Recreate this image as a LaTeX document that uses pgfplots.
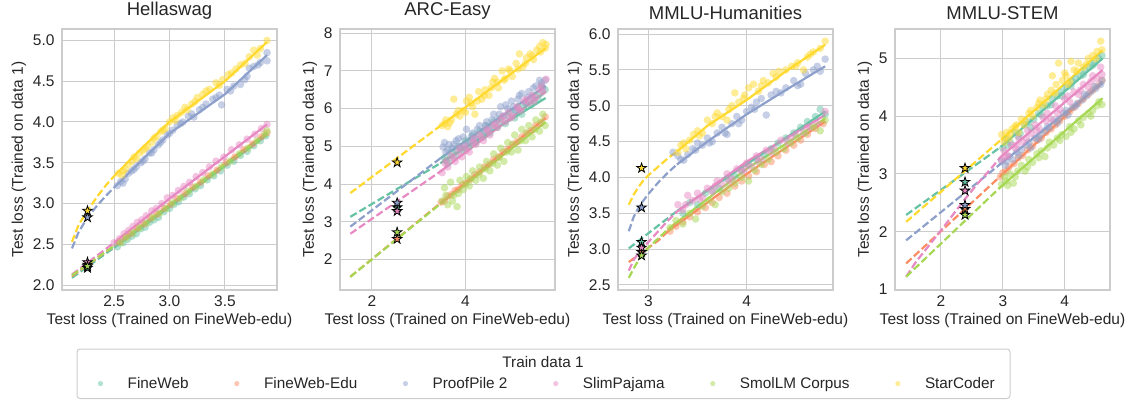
\documentclass[border=0pt]{standalone}
\usepackage{pgfplots}
\pgfplotsset{compat=1.18}
\usepackage{fontspec}
\setmainfont{Liberation Sans}
\definecolor{cA}{HTML}{66C2A5}
\definecolor{cB}{HTML}{FC8D62}
\definecolor{cC}{HTML}{8DA0CB}
\definecolor{cD}{HTML}{E78AC3}
\definecolor{cE}{HTML}{A6D854}
\definecolor{cF}{HTML}{FFD92F}
\definecolor{gridc}{HTML}{CCCCCC}
\definecolor{labc}{HTML}{262626}
\newcommand\fs{\fontsize{15.5}{18}\selectfont}
\newcommand\ft{\fontsize{18.5}{21}\selectfont}
\newcommand\fl{\fontsize{15.3}{18}\selectfont}
\pgfdeclareplotmark{fstar}{%
  \pgfpathmoveto{\pgfpointpolar{90}{1\pgfplotmarksize}}%
  \pgfpathlineto{\pgfpointpolar{126}{0.382\pgfplotmarksize}}%
  \pgfpathlineto{\pgfpointpolar{162}{1\pgfplotmarksize}}%
  \pgfpathlineto{\pgfpointpolar{198}{0.382\pgfplotmarksize}}%
  \pgfpathlineto{\pgfpointpolar{234}{1\pgfplotmarksize}}%
  \pgfpathlineto{\pgfpointpolar{270}{0.382\pgfplotmarksize}}%
  \pgfpathlineto{\pgfpointpolar{306}{1\pgfplotmarksize}}%
  \pgfpathlineto{\pgfpointpolar{342}{0.382\pgfplotmarksize}}%
  \pgfpathlineto{\pgfpointpolar{18}{1\pgfplotmarksize}}%
  \pgfpathlineto{\pgfpointpolar{54}{0.382\pgfplotmarksize}}%
  \pgfpathclose
  \pgfusepathqfillstroke}
\pgfplotsset{
  panel/.style={scale only axis, width=215pt, height=261pt, anchor=south west,
    axis line style={gridc, line width=1.25pt},
    grid=major, major grid style={gridc, line width=1pt},
    tick style={draw=none},
    /pgf/number format/assume math mode=true,
    xticklabel style={font=\fs, text=labc, yshift=-2pt},
    yticklabel style={font=\fs, text=labc, xshift=-4pt},
    label style={font=\fs, text=labc},
    title style={font=\ft, text=labc},
    xlabel={Test loss (Trained on FineWeb-edu)},
    ylabel={Test loss (Trained on data 1)}},
  onedec/.style={xticklabel style={/pgf/number format/.cd, fixed, fixed zerofill, precision=1},
    yticklabel style={/pgf/number format/.cd, fixed, fixed zerofill, precision=1}},
  sc/.style={only marks, color=#1, mark=*, mark size=3.8pt, mark options={draw opacity=0, fill=#1, fill opacity=0.5}},
  ln/.style={#1, line width=2.2pt, no marks},
  dl/.style={#1, line width=2.2pt, no marks, dash pattern=on 7.4pt off 3.2pt},
  st/.style={only marks, mark=fstar, mark size=5pt, mark options={fill=#1, draw=black, line width=0.8pt, solid}},
  lg/.style={only marks, color=#1, mark=*, mark size=2.6pt, mark options={draw opacity=0, fill=#1, fill opacity=0.5}}
}
\begin{document}
\begin{tikzpicture}
\path[use as bounding box] (0,0) rectangle (1125pt,400pt);
% ---------------- Hellaswag
\begin{axis}[panel, onedec, at={(62pt,110pt)}, title={Hellaswag},
  xmin=2.03, xmax=3.97, ymin=1.94, ymax=5.14,
  xtick={2.5,3.0,3.5}, ytick={2.0,2.5,3.0,3.5,4.0,4.5,5.0}]
\addplot[sc=cA] coordinates {(2.53,2.47)(2.58,2.52)(2.62,2.56)(2.66,2.60)(2.70,2.63)(2.74,2.69)(2.78,2.71)(2.82,2.77)(2.86,2.80)(2.90,2.83)(2.95,2.90)(3.00,2.94)(3.04,2.99)(3.08,3.02)(3.13,3.08)(3.18,3.12)(3.23,3.18)(3.28,3.22)(3.34,3.29)(3.40,3.34)(3.46,3.40)(3.52,3.47)(3.58,3.52)(3.64,3.59)(3.70,3.64)(3.76,3.71)(3.82,3.77)(3.87,3.83)};
\addplot[sc=cB] coordinates {(2.55,2.53)(2.60,2.59)(2.65,2.63)(2.71,2.70)(2.77,2.75)(2.83,2.82)(2.89,2.87)(2.95,2.94)(3.01,2.99)(3.07,3.06)(3.14,3.12)(3.21,3.20)(3.28,3.26)(3.35,3.34)(3.43,3.41)(3.51,3.50)(3.59,3.57)(3.67,3.66)(3.75,3.73)(3.83,3.82)(3.88,3.87)};
\addplot[sc=cC] coordinates {(2.53,3.22)(2.56,3.27)(2.58,3.25)(2.60,3.30)(2.63,3.37)(2.66,3.40)(2.68,3.42)(2.70,3.45)(2.74,3.50)(2.76,3.52)(2.78,3.55)(2.82,3.62)(2.84,3.62)(2.86,3.66)(2.90,3.72)(2.92,3.75)(2.94,3.78)(2.98,3.84)(3.00,3.86)(3.03,3.90)(3.07,3.96)(3.10,3.98)(3.12,4.00)(3.17,4.07)(3.20,4.10)(3.22,4.06)(3.27,4.15)(3.30,4.18)(3.33,4.22)(3.39,4.28)(3.42,4.30)(3.45,4.33)(3.47,4.21)(3.52,4.40)(3.55,4.38)(3.58,4.44)(3.64,4.46)(3.68,4.52)(3.70,4.56)(3.72,4.66)(3.76,4.68)(3.80,4.70)(3.82,4.73)(3.88,4.85)(3.88,4.75)};
\addplot[sc=cD] coordinates {(2.50,2.52)(2.55,2.57)(2.59,2.63)(2.63,2.67)(2.67,2.72)(2.71,2.77)(2.75,2.80)(2.79,2.85)(2.84,2.91)(2.88,2.94)(2.93,3.00)(2.98,3.07)(3.03,3.10)(3.08,3.16)(3.13,3.21)(3.18,3.26)(3.24,3.33)(3.30,3.38)(3.36,3.45)(3.42,3.52)(3.49,3.57)(3.56,3.66)(3.63,3.72)(3.70,3.79)(3.77,3.85)(3.83,3.92)(3.88,3.97)};
\addplot[sc=cE] coordinates {(2.56,2.52)(2.61,2.58)(2.67,2.64)(2.73,2.70)(2.79,2.76)(2.85,2.83)(2.91,2.88)(2.97,2.94)(3.03,3.01)(3.10,3.07)(3.17,3.15)(3.24,3.21)(3.31,3.29)(3.39,3.36)(3.47,3.45)(3.55,3.52)(3.63,3.61)(3.71,3.68)(3.79,3.77)(3.86,3.85)(3.88,3.89)};
\addplot[sc=cF] coordinates {(2.54,3.37)(2.57,3.35)(2.58,3.40)(2.60,3.42)(2.63,3.48)(2.66,3.52)(2.68,3.57)(2.70,3.55)(2.73,3.62)(2.76,3.65)(2.78,3.68)(2.80,3.70)(2.84,3.75)(2.86,3.80)(2.88,3.82)(2.92,3.88)(2.94,3.90)(2.96,3.92)(3.00,4.00)(3.03,4.05)(3.05,4.02)(3.07,4.08)(3.11,4.12)(3.14,4.18)(3.16,4.15)(3.20,4.22)(3.23,4.25)(3.25,4.30)(3.30,4.34)(3.33,4.38)(3.36,4.40)(3.42,4.48)(3.45,4.45)(3.48,4.52)(3.53,4.58)(3.56,4.60)(3.60,4.65)(3.64,4.70)(3.68,4.72)(3.72,4.80)(3.76,4.88)(3.79,4.82)(3.82,4.90)(3.88,5.00)};
\addplot[ln=cA] coordinates {(2.50,2.46)(3.88,3.84)};
\addplot[dl=cA] coordinates {(2.12,2.09)(2.50,2.46)};
\addplot[ln=cB] coordinates {(2.50,2.48)(3.88,3.87)};
\addplot[dl=cB] coordinates {(2.12,2.11)(2.50,2.48)};
\addplot[ln=cC] coordinates {(2.51,3.21)(2.75,3.53)(3.00,3.86)(3.50,4.34)(3.88,4.82)};
\addplot[dl=cC] coordinates {(2.12,2.45)(2.18,2.65)(2.26,2.83)(2.35,2.98)(2.43,3.10)(2.51,3.21)};
\addplot[ln=cD] coordinates {(2.50,2.52)(3.00,3.06)(3.88,3.97)};
\addplot[dl=cD] coordinates {(2.12,2.13)(2.50,2.52)};
\addplot[ln=cE] coordinates {(2.50,2.48)(3.88,3.86)};
\addplot[dl=cE] coordinates {(2.12,2.12)(2.50,2.48)};
\addplot[ln=cF] coordinates {(2.51,3.35)(2.75,3.68)(3.00,4.00)(3.50,4.50)(3.88,4.98)};
\addplot[dl=cF] coordinates {(2.12,2.53)(2.18,2.74)(2.26,2.91)(2.35,3.09)(2.43,3.23)(2.51,3.35)};
\addplot[st=cA] coordinates {(2.26,2.21)};
\addplot[st=cB] coordinates {(2.26,2.25)};
\addplot[st=cC] coordinates {(2.26,2.83)};
\addplot[st=cD] coordinates {(2.26,2.28)};
\addplot[st=cE] coordinates {(2.26,2.23)};
\addplot[st=cF] coordinates {(2.26,2.91)};
\end{axis}
% ---------------- ARC-Easy
\begin{axis}[panel, at={(340pt,110pt)}, title={ARC-Easy},
  xmin=1.32, xmax=5.91, ymin=1.19, ymax=8.11,
  xtick={2,4}, ytick={2,3,4,5,6,7,8}]
\addplot[sc=cA] coordinates {(3.55,4.70)(3.58,4.62)(3.62,4.55)(3.68,4.70)(3.70,4.85)(3.78,4.75)(3.82,4.88)(3.85,5.00)(3.92,4.90)(3.98,4.95)(4.00,5.15)(4.08,5.00)(4.12,5.15)(4.15,5.30)(4.22,5.10)(4.26,5.25)(4.30,5.40)(4.38,5.25)(4.42,5.40)(4.45,5.55)(4.52,5.35)(4.58,5.50)(4.60,5.65)(4.68,5.50)(4.72,5.65)(4.75,5.75)(4.85,5.60)(4.90,5.80)(4.95,5.90)(5.05,5.75)(5.08,5.95)(5.12,6.05)(5.20,5.85)(5.25,6.05)(5.30,6.15)(5.40,6.10)(5.45,6.20)(5.48,6.35)(5.55,6.25)(5.60,6.40)(5.62,6.60)(5.70,6.50)};
\addplot[sc=cB] coordinates {(3.48,3.52)(3.55,3.55)(3.62,3.68)(3.70,3.72)(3.78,3.83)(3.85,3.86)(3.93,3.98)(4.00,4.02)(4.10,4.12)(4.20,4.25)(4.30,4.32)(4.40,4.45)(4.50,4.52)(4.60,4.65)(4.70,4.72)(4.80,4.85)(4.90,4.92)(5.00,5.05)(5.10,5.12)(5.20,5.25)(5.30,5.35)(5.40,5.42)(5.50,5.55)(5.60,5.62)(5.70,5.78)};
\addplot[sc=cC] coordinates {(3.52,4.98)(3.55,5.10)(3.58,4.85)(3.62,4.92)(3.65,5.05)(3.72,4.95)(3.75,5.05)(3.80,5.15)(3.85,5.20)(3.88,5.00)(3.95,5.25)(3.98,5.05)(4.02,5.45)(4.08,5.10)(4.12,5.25)(4.15,5.35)(4.22,5.20)(4.25,5.45)(4.30,5.55)(4.38,5.40)(4.42,5.55)(4.45,5.65)(4.52,5.50)(4.56,5.70)(4.60,5.85)(4.68,5.70)(4.72,5.85)(4.75,6.05)(4.82,5.80)(4.86,6.10)(4.90,6.00)(4.98,6.20)(5.02,6.05)(5.05,5.95)(5.12,6.25)(5.15,6.35)(5.20,6.40)(5.28,6.15)(5.32,6.30)(5.35,6.45)(5.42,6.30)(5.45,6.55)(5.50,6.60)(5.58,6.75)(5.62,6.68)(5.65,6.55)(5.70,6.75)};
\addplot[sc=cD] coordinates {(3.50,4.30)(3.56,4.55)(3.60,4.62)(3.62,4.45)(3.70,4.75)(3.75,4.70)(3.78,4.60)(3.85,4.85)(3.88,4.95)(3.92,4.72)(4.00,5.00)(4.02,4.90)(4.08,4.85)(4.15,5.10)(4.18,5.20)(4.22,5.05)(4.30,5.30)(4.34,5.25)(4.38,5.15)(4.45,5.45)(4.48,5.40)(4.52,5.30)(4.60,5.55)(4.64,5.60)(4.68,5.50)(4.75,5.70)(4.80,5.80)(4.85,5.65)(4.92,5.90)(4.96,5.75)(5.00,5.80)(5.10,6.05)(5.12,6.00)(5.18,5.95)(5.25,6.20)(5.30,6.25)(5.35,6.15)(5.42,6.35)(5.46,6.20)(5.50,6.30)(5.58,6.50)(5.62,6.60)(5.65,6.45)(5.72,6.78)};
\addplot[sc=cE] coordinates {(3.50,3.55)(3.55,3.90)(3.58,3.70)(3.62,3.45)(3.68,4.05)(3.72,3.55)(3.75,3.70)(3.82,3.40)(3.85,3.75)(3.88,4.10)(3.95,3.85)(4.00,4.00)(4.02,4.20)(4.08,3.95)(4.12,4.15)(4.15,4.35)(4.22,4.10)(4.28,4.25)(4.30,4.45)(4.38,4.15)(4.42,4.40)(4.45,4.60)(4.52,4.35)(4.58,4.55)(4.60,4.80)(4.68,4.50)(4.72,4.70)(4.75,4.95)(4.82,4.60)(4.88,4.85)(4.90,5.10)(4.98,4.85)(5.02,5.05)(5.05,5.30)(5.12,4.90)(5.18,5.15)(5.20,5.45)(5.28,5.15)(5.32,5.35)(5.35,5.55)(5.42,5.25)(5.48,5.45)(5.50,5.70)(5.58,5.40)(5.62,5.65)(5.65,5.85)(5.70,5.55)};
\addplot[sc=cF] coordinates {(3.50,5.55)(3.55,5.60)(3.58,5.70)(3.62,5.52)(3.66,5.62)(3.70,5.70)(3.75,6.25)(3.80,5.85)(3.85,5.95)(3.88,5.80)(3.95,5.95)(4.00,5.90)(4.02,6.20)(4.08,6.30)(4.12,6.15)(4.15,6.05)(4.20,5.85)(4.25,6.20)(4.28,6.45)(4.35,6.25)(4.40,6.35)(4.42,6.50)(4.50,6.35)(4.55,6.55)(4.58,6.70)(4.62,6.80)(4.68,6.70)(4.70,6.55)(4.78,7.00)(4.82,6.75)(4.85,6.80)(4.92,7.05)(4.95,7.00)(5.00,6.85)(5.08,7.20)(5.12,7.05)(5.15,7.45)(5.22,7.10)(5.28,7.20)(5.30,7.35)(5.38,7.45)(5.42,7.40)(5.45,7.30)(5.52,7.55)(5.58,7.65)(5.60,7.50)(5.65,7.75)(5.70,7.60)(5.72,7.70)};
\addplot[ln=cA] coordinates {(3.46,4.55)(5.71,6.28)};
\addplot[dl=cA] coordinates {(1.54,3.13)(3.46,4.55)};
\addplot[ln=cB] coordinates {(3.46,3.49)(5.71,5.75)};
\addplot[dl=cB] coordinates {(1.54,1.54)(3.46,3.49)};
\addplot[ln=cC] coordinates {(3.46,4.68)(5.71,6.60)};
\addplot[dl=cC] coordinates {(1.54,2.87)(3.46,4.68)};
\addplot[ln=cD] coordinates {(3.46,4.33)(5.71,6.45)};
\addplot[dl=cD] coordinates {(1.54,2.68)(3.46,4.33)};
\addplot[ln=cE] coordinates {(3.46,3.47)(5.71,5.64)};
\addplot[dl=cE] coordinates {(1.54,1.54)(3.46,3.47)};
\addplot[ln=cF] coordinates {(3.46,5.54)(5.71,7.60)};
\addplot[dl=cF] coordinates {(1.54,3.76)(3.46,5.54)};
\addplot[st=cA] coordinates {(2.54,3.38)};
\addplot[st=cB] coordinates {(2.54,2.54)};
\addplot[st=cC] coordinates {(2.54,3.50)};
\addplot[st=cD] coordinates {(2.54,3.28)};
\addplot[st=cE] coordinates {(2.54,2.72)};
\addplot[st=cF] coordinates {(2.54,4.57)};
\end{axis}
% ---------------- MMLU-Humanities
\begin{axis}[panel, onedec, at={(618pt,110pt)}, title={MMLU-Humanities},
  xmin=2.69, xmax=4.88, ymin=2.43, ymax=6.07,
  xtick={3,4}, ytick={2.5,3.0,3.5,4.0,4.5,5.0,5.5,6.0},
  xticklabel style={/pgf/number format/.cd, fixed, precision=0}]
\addplot[sc=cA] coordinates {(3.35,3.50)(3.42,3.65)(3.50,3.62)(3.58,3.78)(3.65,3.82)(3.72,3.85)(3.80,3.98)(3.88,4.02)(3.95,4.10)(4.02,4.18)(4.10,4.25)(4.18,4.32)(4.25,4.40)(4.32,4.48)(4.40,4.55)(4.48,4.62)(4.55,4.70)(4.62,4.78)(4.70,4.85)(4.75,4.95)(4.80,4.88)};
\addplot[sc=cB] coordinates {(3.22,3.25)(3.28,3.32)(3.35,3.38)(3.42,3.45)(3.50,3.52)(3.58,3.58)(3.65,3.65)(3.72,3.72)(3.80,3.78)(3.88,3.88)(3.95,3.95)(4.02,4.02)(4.10,4.08)(4.18,4.18)(4.25,4.22)(4.32,4.30)(4.40,4.38)(4.48,4.45)(4.55,4.52)(4.62,4.60)(4.70,4.68)(4.78,4.75)};
\addplot[sc=cC] coordinates {(3.25,4.35)(3.30,4.30)(3.33,4.25)(3.36,4.24)(3.40,4.32)(3.45,4.40)(3.48,4.38)(3.50,4.48)(3.55,4.45)(3.60,4.55)(3.62,4.48)(3.65,4.50)(3.70,4.62)(3.75,4.70)(3.78,4.62)(3.80,4.60)(3.85,4.75)(3.90,4.85)(3.92,4.75)(3.95,4.80)(4.00,4.92)(4.05,4.98)(4.08,4.95)(4.10,5.05)(4.15,5.10)(4.20,4.87)(4.25,5.15)(4.30,5.20)(4.35,5.18)(4.40,5.25)(4.48,5.35)(4.52,5.28)(4.55,5.30)(4.60,5.45)(4.68,5.50)(4.72,5.55)(4.75,5.48)(4.80,5.65)};
\addplot[sc=cD] coordinates {(3.30,3.62)(3.35,3.55)(3.38,3.62)(3.40,3.75)(3.45,3.68)(3.50,3.78)(3.52,3.70)(3.55,3.72)(3.60,3.85)(3.65,3.80)(3.68,3.88)(3.70,3.95)(3.75,3.90)(3.80,4.05)(3.82,3.95)(3.85,3.98)(3.90,4.12)(3.95,4.08)(3.98,4.12)(4.00,4.20)(4.05,4.15)(4.10,4.30)(4.12,4.22)(4.15,4.25)(4.20,4.38)(4.25,4.35)(4.28,4.40)(4.35,4.52)(4.42,4.48)(4.45,4.55)(4.50,4.60)(4.58,4.62)(4.62,4.70)(4.65,4.70)(4.72,4.75)(4.80,4.92)};
\addplot[sc=cE] coordinates {(3.22,3.30)(3.28,3.40)(3.35,3.35)(3.42,3.50)(3.48,3.42)(3.55,3.60)(3.62,3.68)(3.68,3.62)(3.75,3.80)(3.82,3.85)(3.88,3.92)(3.95,4.00)(4.02,3.95)(4.08,4.10)(4.15,4.18)(4.22,4.25)(4.30,4.35)(4.38,4.40)(4.45,4.48)(4.52,4.55)(4.60,4.62)(4.68,4.70)(4.75,4.65)(4.80,4.80)};
\addplot[sc=cF] coordinates {(3.30,4.35)(3.33,4.45)(3.36,4.48)(3.38,4.40)(3.42,4.52)(3.46,4.60)(3.50,4.65)(3.52,4.58)(3.55,4.62)(3.60,4.80)(3.65,4.75)(3.68,4.85)(3.70,4.90)(3.75,4.85)(3.80,4.80)(3.82,4.95)(3.85,5.00)(3.88,5.18)(3.92,5.05)(3.97,5.10)(3.98,5.15)(4.02,5.25)(4.07,5.30)(4.12,5.20)(4.15,5.28)(4.17,5.35)(4.22,5.32)(4.27,5.45)(4.30,5.40)(4.33,5.48)(4.40,5.50)(4.46,5.55)(4.50,5.55)(4.52,5.60)(4.58,5.50)(4.62,5.68)(4.65,5.72)(4.68,5.75)(4.75,5.80)(4.80,5.90)};
\addplot[ln=cA] coordinates {(3.29,3.53)(4.80,4.92)};
\addplot[dl=cA] coordinates {(2.80,3.01)(3.29,3.53)};
\addplot[ln=cB] coordinates {(3.20,3.25)(4.00,4.05)(4.80,4.78)};
\addplot[dl=cB] coordinates {(2.80,2.82)(2.90,2.92)(3.00,3.02)(3.10,3.12)(3.20,3.25)};
\addplot[ln=cC] coordinates {(3.29,4.18)(3.60,4.50)(4.00,4.88)(4.40,5.22)(4.80,5.55)};
\addplot[dl=cC] coordinates {(2.80,3.25)(2.85,3.45)(2.90,3.58)(2.95,3.68)(3.00,3.77)(3.10,3.93)(3.20,4.07)(3.29,4.18)};
\addplot[ln=cD] coordinates {(3.29,3.52)(4.00,4.22)(4.80,4.87)};
\addplot[dl=cD] coordinates {(2.80,2.70)(2.85,2.85)(2.90,2.95)(3.00,3.10)(3.10,3.25)(3.20,3.40)(3.29,3.52)};
\addplot[ln=cE] coordinates {(3.20,3.28)(4.00,4.12)(4.80,4.82)};
\addplot[dl=cE] coordinates {(2.80,2.60)(2.85,2.73)(2.90,2.85)(3.00,3.02)(3.10,3.15)(3.20,3.28)};
\addplot[ln=cF] coordinates {(3.29,4.36)(3.60,4.72)(4.00,5.08)(4.40,5.48)(4.80,5.85)};
\addplot[dl=cF] coordinates {(2.80,3.62)(2.85,3.76)(2.90,3.87)(2.95,3.96)(3.00,4.03)(3.10,4.15)(3.20,4.27)(3.29,4.36)};
\addplot[st=cA] coordinates {(2.93,3.10)};
\addplot[st=cB] coordinates {(2.93,2.96)};
\addplot[st=cC] coordinates {(2.93,3.58)};
\addplot[st=cD] coordinates {(2.93,3.02)};
\addplot[st=cE] coordinates {(2.93,2.91)};
\addplot[st=cF] coordinates {(2.93,4.13)};
\end{axis}
% ---------------- MMLU-STEM
\begin{axis}[panel, at={(895pt,110pt)}, title={MMLU-STEM},
  xmin=1.26, xmax=4.73, ymin=0.99, ymax=5.51,
  xtick={2,3,4}, ytick={1,2,3,4,5}]
\addplot[sc=cA] coordinates {(3.00,3.45)(3.06,3.60)(3.08,3.50)(3.12,3.55)(3.20,3.72)(3.25,3.65)(3.28,3.70)(3.35,3.85)(3.42,3.90)(3.45,3.80)(3.50,3.95)(3.58,4.05)(3.62,4.02)(3.65,4.15)(3.72,4.18)(3.78,4.20)(3.80,4.30)(3.88,4.35)(3.95,4.42)(3.95,4.35)(4.02,4.50)(4.10,4.52)(4.12,4.60)(4.18,4.65)(4.25,4.70)(4.30,4.72)(4.32,4.80)(4.40,4.85)(4.45,4.88)(4.48,4.92)(4.55,5.00)(4.60,5.05)};
\addplot[sc=cB] coordinates {(2.96,2.95)(3.00,3.02)(3.05,3.05)(3.10,3.12)(3.18,3.18)(3.25,3.28)(3.32,3.32)(3.40,3.42)(3.48,3.48)(3.55,3.58)(3.62,3.62)(3.70,3.72)(3.78,3.78)(3.85,3.85)(3.92,3.92)(4.00,4.00)(4.08,4.08)(4.15,4.15)(4.22,4.22)(4.30,4.30)(4.38,4.38)(4.45,4.45)(4.52,4.52)(4.60,4.62)};
\addplot[sc=cC] coordinates {(2.98,3.22)(3.04,3.15)(3.06,3.22)(3.10,3.30)(3.16,3.25)(3.22,3.38)(3.26,3.32)(3.30,3.42)(3.38,3.50)(3.42,3.55)(3.45,3.45)(3.52,3.62)(3.58,3.60)(3.60,3.68)(3.68,3.75)(3.72,3.82)(3.75,3.80)(3.82,3.92)(3.88,3.88)(3.90,3.95)(3.98,4.05)(4.02,4.10)(4.05,4.02)(4.12,4.15)(4.18,4.18)(4.20,4.22)(4.28,4.28)(4.32,4.38)(4.35,4.35)(4.42,4.42)(4.48,4.52)(4.50,4.48)(4.58,4.55)(4.60,4.62)};
\addplot[sc=cD] coordinates {(2.98,3.25)(3.02,3.40)(3.05,3.30)(3.08,3.32)(3.14,3.50)(3.20,3.45)(3.22,3.50)(3.26,3.62)(3.32,3.55)(3.38,3.62)(3.40,3.75)(3.46,3.70)(3.52,3.85)(3.55,3.75)(3.58,3.80)(3.65,3.98)(3.70,3.92)(3.72,4.05)(3.78,3.95)(3.85,4.18)(3.88,4.05)(3.92,4.12)(4.00,4.30)(4.05,4.35)(4.08,4.25)(4.15,4.42)(4.22,4.38)(4.25,4.45)(4.30,4.55)(4.38,4.50)(4.42,4.60)(4.45,4.70)(4.52,4.65)(4.58,4.85)(4.60,4.72)};
\addplot[sc=cE] coordinates {(2.98,2.82)(3.03,2.95)(3.06,2.88)(3.08,2.80)(3.12,3.00)(3.17,2.84)(3.20,2.95)(3.24,3.05)(3.30,3.15)(3.36,3.05)(3.40,3.12)(3.42,3.25)(3.48,3.20)(3.55,3.35)(3.58,3.28)(3.62,3.40)(3.68,3.30)(3.72,3.45)(3.75,3.55)(3.82,3.50)(3.88,3.62)(3.92,3.58)(3.95,3.68)(4.02,3.65)(4.08,3.82)(4.10,3.72)(4.15,3.78)(4.22,3.92)(4.26,3.85)(4.30,3.98)(4.38,4.05)(4.42,4.00)(4.45,4.10)(4.52,4.18)(4.55,4.25)(4.60,4.20)};
\addplot[sc=cF] coordinates {(2.98,3.68)(3.02,3.55)(3.04,3.62)(3.06,3.72)(3.10,3.62)(3.12,3.70)(3.15,3.78)(3.20,3.82)(3.22,3.85)(3.25,3.72)(3.30,3.95)(3.34,3.85)(3.36,3.92)(3.42,4.05)(3.45,4.10)(3.48,4.00)(3.55,4.15)(3.58,4.22)(3.60,4.28)(3.66,4.20)(3.70,4.30)(3.72,4.38)(3.78,4.45)(3.80,4.70)(3.84,4.40)(3.86,4.55)(3.90,4.92)(3.96,4.62)(4.00,4.75)(4.02,4.70)(4.05,4.55)(4.08,4.60)(4.10,4.95)(4.15,4.80)(4.20,4.78)(4.22,4.92)(4.30,4.85)(4.35,4.90)(4.38,5.00)(4.45,5.05)(4.50,5.00)(4.52,5.12)(4.58,5.30)(4.60,5.15)};
\addplot[ln=cA] coordinates {(2.97,3.47)(4.61,5.00)};
\addplot[dl=cA] coordinates {(1.44,2.29)(2.97,3.47)};
\addplot[ln=cB] coordinates {(2.95,2.95)(4.61,4.60)};
\addplot[dl=cB] coordinates {(1.44,1.45)(2.95,2.95)};
\addplot[ln=cC] coordinates {(2.97,3.18)(4.61,4.57)};
\addplot[dl=cC] coordinates {(1.44,1.85)(2.97,3.18)};
\addplot[ln=cD] coordinates {(2.97,3.30)(4.61,4.80)};
\addplot[dl=cD] coordinates {(1.44,1.22)(1.60,1.48)(1.80,1.75)(2.00,2.02)(2.20,2.30)(2.40,2.58)(2.60,2.84)(2.80,3.08)(2.97,3.30)};
\addplot[ln=cE] coordinates {(2.97,2.78)(4.61,4.31)};
\addplot[dl=cE] coordinates {(1.44,1.22)(2.97,2.78)};
\addplot[ln=cF] coordinates {(2.97,3.59)(4.61,5.14)};
\addplot[dl=cF] coordinates {(1.44,2.17)(2.97,3.59)};
\addplot[st=cA] coordinates {(2.39,2.86)};
\addplot[st=cB] coordinates {(2.39,2.39)};
\addplot[st=cC] coordinates {(2.39,2.46)};
\addplot[st=cD] coordinates {(2.39,2.71)};
\addplot[st=cE] coordinates {(2.39,2.29)};
\addplot[st=cF] coordinates {(2.39,3.10)};
\end{axis}
% ---------------- legend
\begin{axis}[at={(0pt,0pt)}, anchor=south west, scale only axis, width=1125pt, height=400pt,
  xmin=0, xmax=1, ymin=0, ymax=1, hide axis,
  legend columns=6,
  legend style={at={(0.4818,0.0410)}, anchor=center, draw=none, fill=none,
    font=\fl, text=labc,
    /tikz/every even column/.append style={column sep=33pt}},
  legend image code/.code={\path (0pt,0pt) (38pt,0pt);
    \draw[mark repeat=2,mark phase=2,#1] plot coordinates {(0pt,0pt)(13pt,0pt)(26pt,0pt)};}]
\addlegendimage{lg=cA}
\addlegendentry{FineWeb}
\addlegendimage{lg=cB}
\addlegendentry{FineWeb-Edu}
\addlegendimage{lg=cC}
\addlegendentry{ProofPile 2}
\addlegendimage{lg=cD}
\addlegendentry{SlimPajama}
\addlegendimage{lg=cE}
\addlegendentry{SmolLM Corpus}
\addlegendimage{lg=cF}
\addlegendentry{StarCoder}
\end{axis}
\draw[gridc, line width=1pt, rounded corners=3pt] (77pt,1.5pt) rectangle (1010pt,51pt);
\node[font=\fl, text=labc] at (543pt,37.5pt) {Train data 1};
\end{tikzpicture}
\end{document}
